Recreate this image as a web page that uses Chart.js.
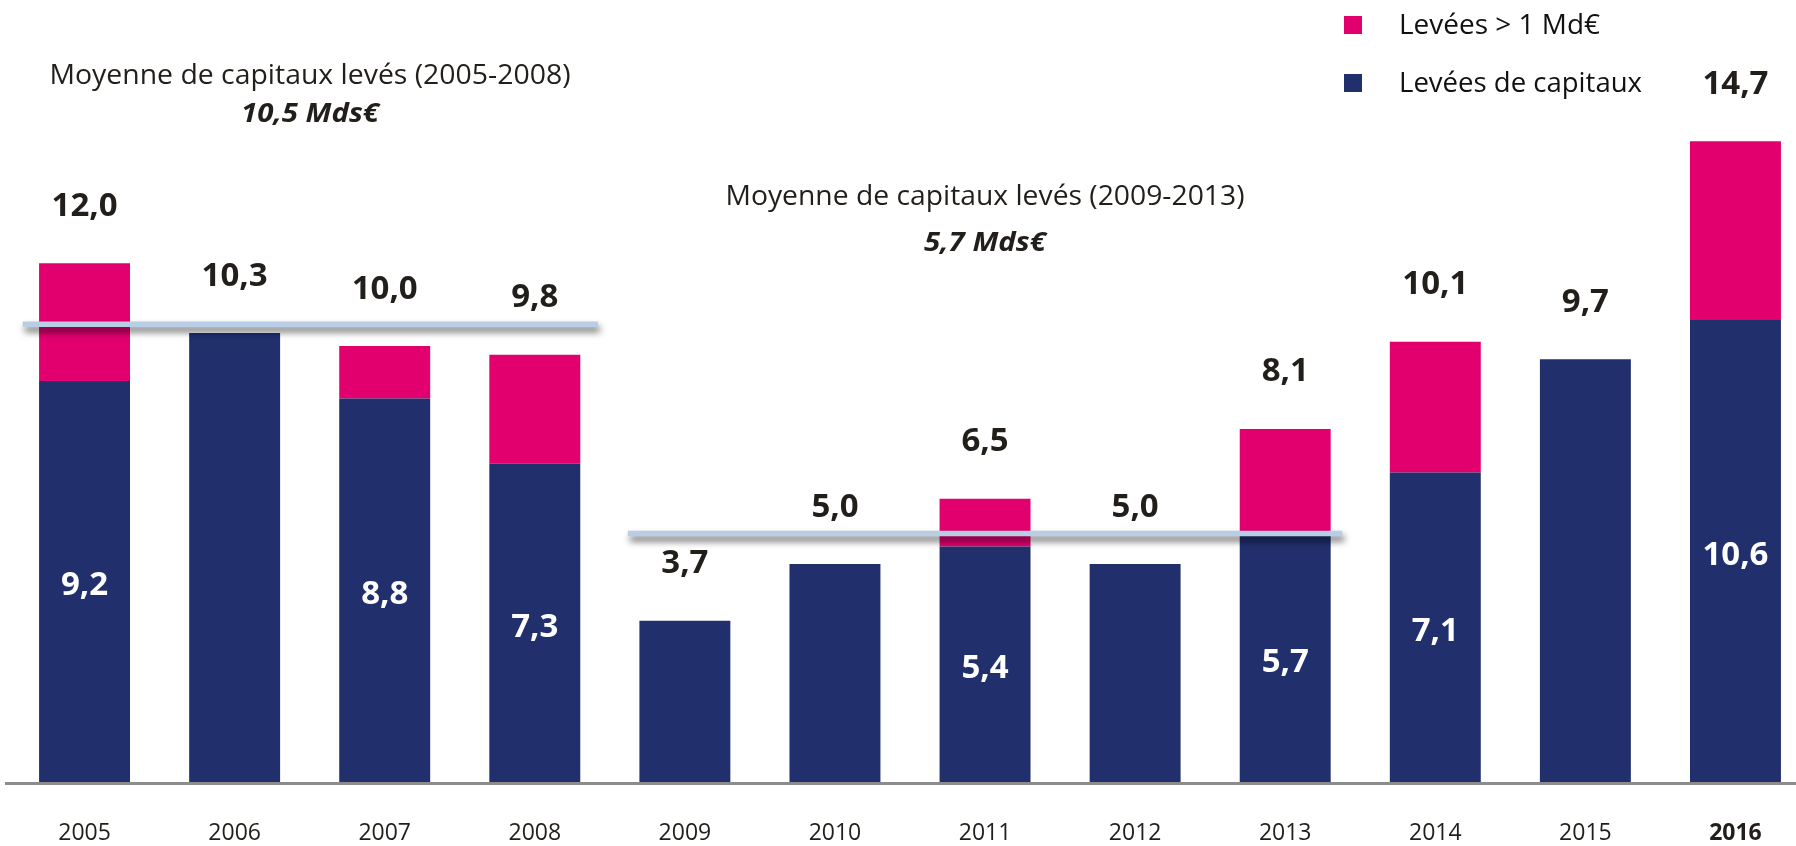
<!DOCTYPE html>
<html><head><meta charset="utf-8">
<script src="https://cdn.jsdelivr.net/npm/chart.js@4.4.0/dist/chart.umd.min.js"></script>
<style>
html,body{margin:0;padding:0;overflow:hidden;background:#fff;width:1796px;height:846px;}
#wrap{position:absolute;left:0;top:0;width:1811px;height:846px;}
</style></head><body>
<div id="wrap"><canvas id="c" width="1811" height="846"></canvas></div>
<script>
const years = ['2005','2006','2007','2008','2009','2010','2011','2012','2013','2014','2015','2016'];
const baseValues = [9.2, 10.3, 8.8, 7.3, 3.7, 5.0, 5.4, 5.0, 5.7, 7.1, 9.7, 10.6];
const bigDealValues = [2.7, 0, 1.2, 2.5, 0, 0, 1.1, 0, 2.4, 3.0, 0, 4.1];
const totalLabels = ['12,0','10,3','10,0','9,8','3,7','5,0','6,5','5,0','8,1','10,1','9,7','14,7'];
const baseLabels = ['9,2','','8,8','7,3','','','5,4','','5,7','7,1','','10,6'];
const seriesNames = ['Levées de capitaux', 'Levées > 1 Md€'];
const avgValues = [10.5, 5.7];
const avgFirst = [0, 4];
const avgLast = [3, 8];
const avgTitles = ['Moyenne de capitaux levés (2005-2008)', 'Moyenne de capitaux levés (2009-2013)'];
const avgLabels = ['10,5 Mds€', '5,7 Mds€'];
const yMax = 17.94;

const NAVY = '#212f6d';
const PINK = '#e2006f';
const TXT = '#221e1a';
const FONT = '"Open Sans", sans-serif';

// draw text squeezed/stretched horizontally to a given width (Calibri-like proportions)
function fitText(ctx, text, x, y, width, align) {
  const w = ctx.measureText(text).width;
  const s = width / w;
  ctx.save();
  ctx.textAlign = 'left';
  const left = align === 'center' ? x - width / 2 : x;
  ctx.translate(left, y);
  ctx.scale(s, 1);
  ctx.fillText(text, 0, 0);
  ctx.restore();
}

const overlay = {
  id: 'overlay',
  afterDatasetsDraw(chart) {
    const ctx = chart.ctx;
    const xs = chart.scales.x, ys = chart.scales.y;
    const base = ys.getPixelForValue(0);
    const step = xs.getPixelForValue(1) - xs.getPixelForValue(0);
    ctx.save();
    // axis line
    ctx.strokeStyle = '#8c8c8c';
    ctx.lineWidth = 3;
    ctx.beginPath();
    ctx.moveTo(5, base + 1.5);
    ctx.lineTo(chart.width, base + 1.5);
    ctx.stroke();

    // category tick labels
    ctx.fillStyle = TXT;
    ctx.textAlign = 'center';
    ctx.textBaseline = 'alphabetic';
    for (let i = 0; i < xs.ticks.length; i++) {
      const last = i === xs.ticks.length - 1;
      ctx.font = (last ? 'bold ' : '') + '23px ' + FONT;
      ctx.fillText(xs.getLabelForValue(xs.ticks[i].value), xs.getPixelForTick(i), 840);
    }

    // average lines
    for (let k = 0; k < avgValues.length; k++) {
      const y = ys.getPixelForValue(avgValues[k]);
      const x1 = xs.getPixelForValue(avgFirst[k]) - step * (k === 0 ? 0.412 : 0.38);
      const x2 = xs.getPixelForValue(avgLast[k]) + step * (k === 0 ? 0.42 : 0.38);
      ctx.save();
      ctx.shadowColor = 'rgba(0,0,0,0.6)';
      ctx.shadowBlur = 7;
      ctx.shadowOffsetX = 2;
      ctx.shadowOffsetY = 5;
      ctx.strokeStyle = '#b9cde5';
      ctx.lineWidth = 5.5;
      ctx.beginPath();
      ctx.moveTo(x1, y);
      ctx.lineTo(x2, y);
      ctx.stroke();
      ctx.restore();
    }

    const m0 = chart.getDatasetMeta(0), m1 = chart.getDatasetMeta(1);
    ctx.textAlign = 'center';
    // total labels
    ctx.font = 'bold 33px ' + FONT;
    ctx.fillStyle = TXT;
    for (let i = 0; i < years.length; i++) {
      const el = m1.data[i];
      ctx.fillText(totalLabels[i], el.x, el.y - 47.5);
    }
    // inner labels
    ctx.fillStyle = '#ffffff';
    for (let i = 0; i < years.length; i++) {
      if (!baseLabels[i]) continue;
      const el = m0.data[i];
      const mid = (el.y + el.base) / 2;
      ctx.fillText(baseLabels[i], el.x, mid + 14);
    }

    // annotations
    const annX = [310, 985];
    const annY1 = [84, 205];
    const annY2 = [121.5, 250.5];
    const annW1 = [521, 519];
    const annW2 = [138, 122];
    ctx.fillStyle = TXT;
    for (let k = 0; k < avgTitles.length; k++) {
      ctx.font = '27px ' + FONT;
      fitText(ctx, avgTitles[k], annX[k], annY1[k], annW1[k], 'center');
      ctx.font = 'italic bold 27px ' + FONT;
      fitText(ctx, avgLabels[k], annX[k], annY2[k], annW2[k], 'center');
    }

    // legend (custom)
    const legendItems = [1, 0];
    const legY = [16, 74];
    const legBase = [34, 92];
    const legW = [201, 243];
    ctx.font = '27px ' + FONT;
    legendItems.forEach((d, j) => {
      const ds = chart.data.datasets[d];
      ctx.fillStyle = ds.backgroundColor;
      ctx.fillRect(1344, legY[j], 18, 18);
      ctx.fillStyle = '#111111';
      fitText(ctx, ds.label, 1399, legBase[j], legW[j], 'left');
    });
    ctx.restore();
  }
};

new Chart(document.getElementById('c'), {
  type: 'bar',
  data: {
    labels: years,
    datasets: [
      { label: seriesNames[0], data: baseValues, backgroundColor: NAVY, borderWidth: 0 },
      { label: seriesNames[1], data: bigDealValues, backgroundColor: PINK, borderWidth: 0 }
    ]
  },
  options: {
    responsive: false,
    animation: false,
    devicePixelRatio: 1,
    layout: { padding: { left: 9.5, right: 0.5, top: 0, bottom: 64 } },
    datasets: { bar: { categoryPercentage: 1, barPercentage: 0.606 } },
    plugins: { legend: { display: false }, tooltip: { enabled: false }, title: { display: false } },
    scales: {
      x: { stacked: true, display: false },
      y: { stacked: true, display: false, min: 0, max: yMax }
    }
  },
  plugins: [overlay]
});
</script>
</body></html>
